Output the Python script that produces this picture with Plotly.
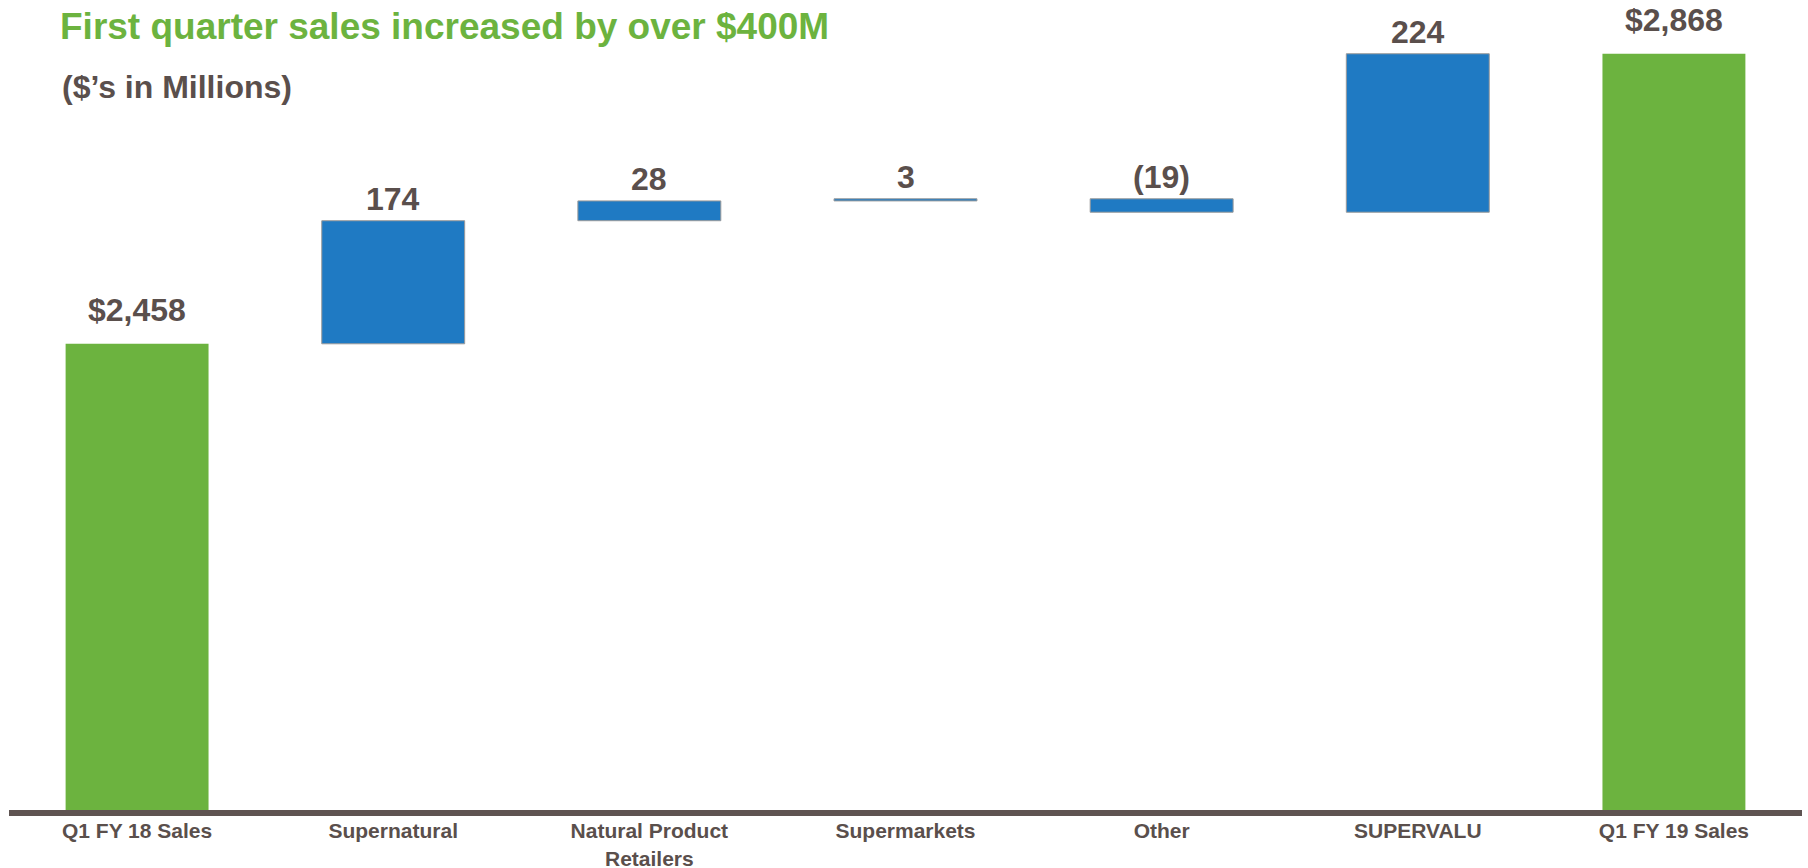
import plotly.graph_objects as go

categories = ["Q1 FY 18 Sales", "Supernatural", "Natural Product<br>Retailers",
              "Supermarkets", "Other", "SUPERVALU", "Q1 FY 19 Sales"]
values = [2458, 174, 28, 3, -19, 224, 2868]
measures = ["absolute", "relative", "relative", "relative", "relative", "relative", "total"]
labels = ["$2,458", "174", "28", "3", "(19)", "224", "$2,868"]

GREEN = "#6CB33F"
BLUE = "#1F7AC3"
TEXT = "#5A4F4C"
AXIS = "#5F5452"
FONT = "Liberation Sans, Arial, sans-serif"

W, H = 1808, 868
ml, mr, mt, mb = 9, 6, 0, 58
plot_h = H - mt - mb
ymin, ymax = 1799, 2944

fig = go.Figure(go.Waterfall(
    x=categories,
    y=values,
    measure=measures,
    totals=dict(marker=dict(color=GREEN, line=dict(width=0))),
    increasing=dict(marker=dict(color=BLUE, line=dict(color="#9A9A9A", width=1))),
    decreasing=dict(marker=dict(color=BLUE, line=dict(color="#9A9A9A", width=1))),
    connector=dict(visible=False),
    hoverinfo="skip",
))

# compute bar tops from data for labels
run = 0
tops = []
for v, m in zip(values, measures):
    if m == "absolute" or m == "total":
        run = v
        tops.append(v)
    else:
        prev = run
        run += v
        tops.append(max(prev, run))

annotations = []
for cat, top, lab, m in zip(categories, tops, labels, measures):
    shift = 34 if m != "relative" else 22
    annotations.append(dict(
        x=cat, y=top, xref="x", yref="y", text=lab, showarrow=False,
        yanchor="middle", yshift=shift,
        font=dict(family=FONT, size=32, color=TEXT, weight="bold"),
    ))

def py(pix):
    return (plot_h - pix) / plot_h

annotations.append(dict(
    x=(58 - ml) / (W - ml - mr), y=py(27), xref="paper", yref="paper",
    xanchor="left", yanchor="middle", showarrow=False,
    text="First quarter sales increased by over $400M",
    font=dict(family=FONT, size=37, color=GREEN, weight="bold"),
))
annotations.append(dict(
    x=(60 - ml) / (W - ml - mr), y=py(87), xref="paper", yref="paper",
    xanchor="left", yanchor="middle", showarrow=False,
    text="($’s in Millions)",
    font=dict(family=FONT, size=32, color=TEXT, weight="bold"),
))

fig.update_layout(
    width=W, height=H,
    margin=dict(l=ml, r=mr, t=mt, b=mb, pad=0, autoexpand=False),
    paper_bgcolor="white", plot_bgcolor="white",
    showlegend=False,
    waterfallgap=0.442,
    xaxis=dict(
        showline=True, linecolor=AXIS, linewidth=6,
        showgrid=False, ticks="", zeroline=False, automargin=False,
        ticklabelstandoff=-3,
        tickfont=dict(family=FONT, size=21, color=TEXT, weight="bold"),
        fixedrange=True,
    ),
    yaxis=dict(
        range=[ymin, ymax], visible=False, showgrid=False, zeroline=False,
        fixedrange=True, automargin=False,
    ),
    annotations=annotations,
)

fig.write_html("out.html", config={"displayModeBar": False})
